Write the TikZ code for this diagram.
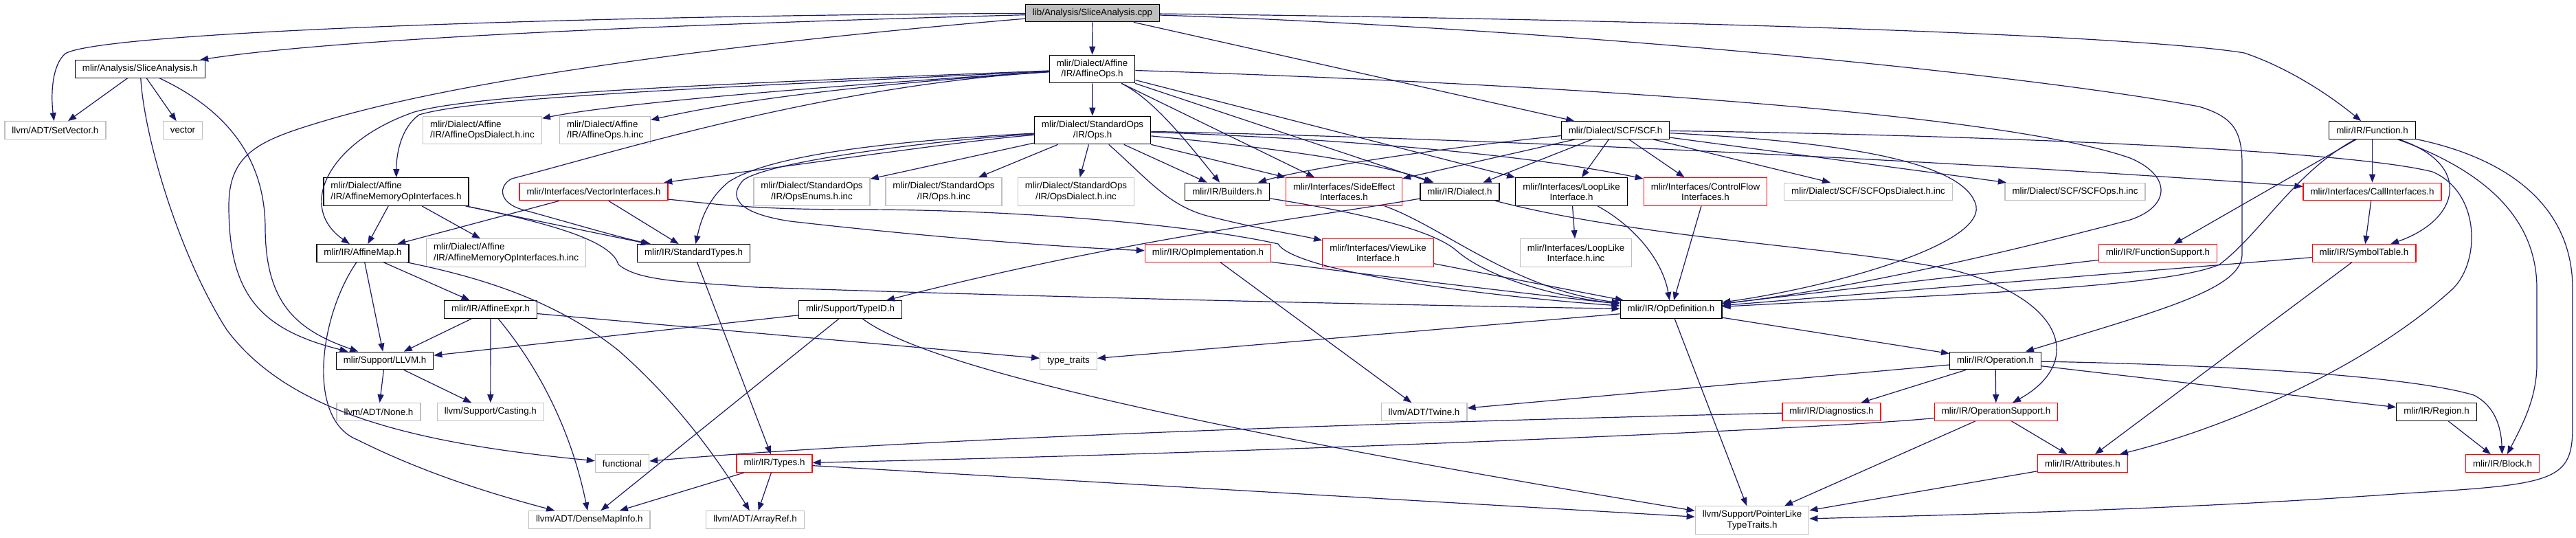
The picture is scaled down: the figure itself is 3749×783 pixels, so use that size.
\documentclass[tikz,border=0pt]{standalone}
\usepackage{fontspec}
\setmainfont{Liberation Sans}
\usepackage{tikz}
\usetikzlibrary{arrows.meta}
\definecolor{edgeblue}{RGB}{25,25,112}
\definecolor{undoc}{RGB}{191,191,191}
\definecolor{trunc}{RGB}{255,0,0}
\newcommand{\depfont}{\fontsize{13.33}{15.5}\selectfont}
\tikzset{
  hdr/.style  ={draw=black, line width=1.3pt, fill=white, inner xsep=10.5pt, inner ysep=2pt, minimum height=25.5pt, font=\depfont},
  ext/.style  ={hdr, draw=undoc},
  trc/.style  ={hdr, draw=trunc},
  src/.style  ={hdr, fill=undoc},
  twoc/.style ={minimum height=40.5pt, align=center},
  twol/.style ={minimum height=40.5pt, align=left},
  inc/.style  ={draw=edgeblue, line width=1.2pt, -{Triangle[length=12pt,width=9pt]}},
}

\begin{document}
\begin{tikzpicture}[x=1pt,y=-1pt]
  \useasboundingbox (0,0) rectangle (3749,783);
  % files
  \node[src] (root) at (1590,19) {lib/Analysis/SliceAnalysis.cpp};
  \node[hdr] (sa) at (204,100.5) {mlir/Analysis/SliceAnalysis.h};
  \node[hdr,twoc] (affops) at (1589.5,100.5) {mlir/Dialect/Affine\\/IR/AffineOps.h};
  \node[ext] (setvec) at (80.4,189.5) {llvm/ADT/SetVector.h};
  \node[ext] (vector) at (266,189.5) {vector};
  \node[ext,twol] (affdial) at (702,189.5) {mlir/Dialect/Affine\\/IR/AffineOpsDialect.h.inc};
  \node[ext,twol] (affinc) at (880.5,189.5) {mlir/Dialect/Affine\\/IR/AffineOps.h.inc};
  \node[hdr,twoc] (stdops) at (1590,189.5) {mlir/Dialect/StandardOps\\/IR/Ops.h};
  \node[hdr] (scf) at (2351,189.5) {mlir/Dialect/SCF/SCF.h};
  \node[hdr] (func) at (3452.5,189.5) {mlir/IR/Function.h};
  \node[hdr,twol] (affmem) at (576.5,279) {mlir/Dialect/Affine\\/IR/AffineMemoryOpInterfaces.h};
  \node[trc] (vecif) at (864,279) {mlir/Interfaces/VectorInterfaces.h};
  \node[ext,twoc] (opsenums) at (1181.5,279) {mlir/Dialect/StandardOps\\/IR/OpsEnums.h.inc};
  \node[ext,twoc] (opsinc) at (1373.5,279) {mlir/Dialect/StandardOps\\/IR/Ops.h.inc};
  \node[ext,twoc] (opsdial) at (1566,279) {mlir/Dialect/StandardOps\\/IR/OpsDialect.h.inc};
  \node[hdr] (builders) at (1786,279) {mlir/IR/Builders.h};
  \node[trc,twoc] (sideeff) at (1956,279) {mlir/Interfaces/SideEffect\\Interfaces.h};
  \node[hdr] (dialect) at (2124.5,279) {mlir/IR/Dialect.h};
  \node[hdr,twoc] (looplike) at (2287,279) {mlir/Interfaces/LoopLike\\Interface.h};
  \node[trc,twoc] (ctrlflow) at (2482,279) {mlir/Interfaces/ControlFlow\\Interfaces.h};
  \node[ext] (scfdial) at (2719,279) {mlir/Dialect/SCF/SCFOpsDialect.h.inc};
  \node[ext] (scfinc) at (3020,279) {mlir/Dialect/SCF/SCFOps.h.inc};
  \node[trc] (callif) at (3452.5,279) {mlir/Interfaces/CallInterfaces.h};
  \node[hdr] (affmap) at (528,368.5) {mlir/IR/AffineMap.h};
  \node[ext,twol] (affmeminc) at (736.5,368) {mlir/Dialect/Affine\\/IR/AffineMemoryOpInterfaces.h.inc};
  \node[hdr] (stdtypes) at (1009.5,368.5) {mlir/IR/StandardTypes.h};
  \node[trc] (opimpl) at (1758,368.5) {mlir/IR/OpImplementation.h};
  \node[trc,twoc] (viewlike) at (2005.5,368) {mlir/Interfaces/ViewLike\\Interface.h};
  \node[ext,twoc] (looplikeinc) at (2293.5,368) {mlir/Interfaces/LoopLike\\Interface.h.inc};
  \node[trc] (funcsup) at (3140.5,368.5) {mlir/IR/FunctionSupport.h};
  \node[trc] (symtab) at (3440.5,368.5) {mlir/IR/SymbolTable.h};
  \node[hdr] (affexpr) at (714,450.5) {mlir/IR/AffineExpr.h};
  \node[hdr] (typeid) at (1237.5,450.5) {mlir/Support/TypeID.h};
  \node[hdr] (opdef) at (2432,450.5) {mlir/IR/OpDefinition.h};
  \node[hdr] (llvmh) at (560,525) {mlir/Support/LLVM.h};
  \node[ext] (typetraits) at (1555,525) {type\_traits};
  \node[hdr] (operation) at (2904,525) {mlir/IR/Operation.h};
  \node[ext] (none) at (551,599.5) {llvm/ADT/None.h};
  \node[ext] (casting) at (713.8,599.5) {llvm/Support/Casting.h};
  \node[ext] (twine) at (2072.5,599.5) {llvm/ADT/Twine.h};
  \node[trc] (diag) at (2665.5,599.5) {mlir/IR/Diagnostics.h};
  \node[trc] (opsup) at (2905,599.5) {mlir/IR/OperationSupport.h};
  \node[hdr] (region) at (3546,599.5) {mlir/IR/Region.h};
  \node[ext] (functional) at (905.5,674.5) {functional};
  \node[trc] (types) at (1127,674.5) {mlir/IR/Types.h};
  \node[trc] (attrs) at (3031,674.5) {mlir/IR/Attributes.h};
  \node[trc] (block) at (3642,674.5) {mlir/IR/Block.h};
  \node[ext] (densemap) at (857.8,756.5) {llvm/ADT/DenseMapInfo.h};
  \node[ext] (arrayref) at (1099,756.5) {llvm/ADT/ArrayRef.h};
  \node[ext,twoc] (ptrlike) at (2550,757) {llvm/Support/PointerLike\\TypeTraits.h};

  % includes of the source file
  \draw[inc] (root) .. controls (1000,35) and (500,55) .. (sa);
  \draw[inc] (root) .. controls (900,22) and (150,45) .. (95,78) .. controls (75,95) and (74,140) .. (setvec);
  \draw[inc] (root) .. controls (1100,60) and (700,110) .. (482,173) .. controls (380,203) and (333,220) .. (333,300) .. controls (333,430) and (380,480) .. (llvmh);
  \draw[inc] (root) -- (affops);
  \draw[inc] (root) -- (scf);
  \draw[inc] (root) .. controls (2400,28) and (3100,50) .. (3266,77) .. controls (3320,95) and (3380,130) .. (func);
  \draw[inc] (root) .. controls (2200,38) and (2900,100) .. (3200,155) .. controls (3250,170) and (3263,190) .. (3263,240) -- (3263,370) .. controls (3263,420) and (3150,450) .. (operation);

  \draw[inc] (sa) -- (setvec);
  \draw[inc] (sa) -- (vector);
  \draw[inc] (sa) .. controls (210,200) and (260,370) .. (330,480) .. controls (420,600) and (600,645) .. (functional);
  \draw[inc] (sa) .. controls (330,160) and (385,230) .. (386,330) .. controls (386,440) and (430,480) .. (llvmh);

  % affine ops
  \draw[inc] (affops) -- (stdops);
  \draw[inc] (affops) .. controls (1100,120) and (700,135) .. (603,163) .. controls (480,205) and (430,300) .. (affmap);
  \draw[inc] (affops) .. controls (1100,125) and (700,140) .. (610,167) .. controls (585,185) and (577,220) .. (affmem);
  \draw[inc] (affops) .. controls (1200,125) and (900,150) .. (affdial);
  \draw[inc] (affops) .. controls (1300,120) and (1100,140) .. (affinc);
  \draw[inc] (affops) .. controls (1200,125) and (900,220) .. (745,260) .. controls (725,270) and (725,295) .. (760,305) .. controls (850,330) and (900,345) .. (stdtypes);
  \draw[inc] (affops) .. controls (2200,120) and (2900,160) .. (3100,230) .. controls (3160,255) and (3160,300) .. (3100,320) .. controls (2950,360) and (2700,420) .. (opdef);
  \draw[inc] (affops) .. controls (1680,145) and (1730,210) .. (builders);
  \draw[inc] (affops) -- (sideeff);
  \draw[inc] (affops) -- (dialect);
  \draw[inc] (affops) -- (looplike);

  % standard ops
  \draw[inc] (stdops) -- (opsenums);
  \draw[inc] (stdops) -- (opsinc);
  \draw[inc] (stdops) -- (opsdial);
  \draw[inc] (stdops) -- (builders);
  \draw[inc] (stdops) .. controls (1670,260) and (1700,300) .. (1760,315) .. controls (1840,335) and (1880,340) .. (viewlike);
  \draw[inc] (stdops) .. controls (1400,205) and (1200,235) .. (vecif);
  \draw[inc] (stdops) .. controls (1300,205) and (1120,225) .. (1060,265) .. controls (1030,290) and (1020,320) .. (stdtypes);
  \draw[inc] (stdops) .. controls (1350,205) and (1120,235) .. (1082,262) .. controls (1060,285) and (1070,310) .. (1150,322) .. controls (1350,345) and (1550,360) .. (opimpl);
  \draw[inc] (stdops) -- (sideeff);
  \draw[inc] (stdops) .. controls (1850,215) and (2000,235) .. (dialect);
  \draw[inc] (stdops) .. controls (1900,200) and (2200,220) .. (ctrlflow);
  \draw[inc] (stdops) .. controls (2300,205) and (3000,245) .. (callif);

  % scf
  \draw[inc] (scf) .. controls (2100,215) and (1900,245) .. (builders);
  \draw[inc] (scf) -- (sideeff);
  \draw[inc] (scf) -- (dialect);
  \draw[inc] (scf) -- (looplike);
  \draw[inc] (scf) -- (ctrlflow);
  \draw[inc] (scf) -- (scfdial);
  \draw[inc] (scf) -- (scfinc);
  \draw[inc] (scf) .. controls (2800,195) and (3400,215) .. (3540,250) .. controls (3610,280) and (3610,380) .. (3570,420) .. controls (3450,530) and (3250,620) .. (attrs);
  \draw[inc] (scf) .. controls (2650,205) and (2860,230) .. (2876,300) .. controls (2885,360) and (2650,420) .. (opdef);

  % function
  \draw[inc] (func) -- (funcsup);
  \draw[inc] (func) .. controls (3340,250) and (3290,340) .. (3230,385) .. controls (3150,420) and (2800,430) .. (opdef);
  \draw[inc] (func) -- (callif);
  \draw[inc] (func) .. controls (3600,240) and (3580,320) .. (symtab);
  \draw[inc] (func) .. controls (3620,250) and (3692,320) .. (3692,420) -- (3692,530) .. controls (3692,580) and (3670,620) .. (block);
  \draw[inc] (func) .. controls (3650,230) and (3744,300) .. (3744,420) -- (3744,620) .. controls (3744,700) and (3720,705) .. (3500,718) .. controls (3200,740) and (2900,748) .. (ptrlike);
  \draw[inc] (callif) -- (symtab);
  \draw[inc] (symtab) -- (opdef);
  \draw[inc] (symtab) -- (attrs);
  \draw[inc] (funcsup) -- (opdef);

  % interfaces
  \draw[inc] (looplike) -- (looplikeinc);
  \draw[inc] (looplike) .. controls (2380,330) and (2420,380) .. (opdef);
  \draw[inc] (ctrlflow) -- (opdef);
  \draw[inc] (sideeff) .. controls (2100,330) and (2200,420) .. (opdef);
  \draw[inc] (viewlike) -- (opdef);
  \draw[inc] (vecif) -- (stdtypes);
  \draw[inc] (vecif) -- (affmap);
  \draw[inc] (vecif) .. controls (1050,298) and (1100,305) .. (1250,305) .. controls (1500,305) and (1750,330) .. (1860,355) .. controls (1885,395) and (2150,430) .. (opdef);
  \draw[inc] (dialect) .. controls (1900,318) and (1650,345) .. (typeid);
  \draw[inc] (dialect) .. controls (2400,350) and (2700,360) .. (2850,395) .. controls (3010,440) and (3030,530) .. (opsup);
  \draw[inc] (builders) .. controls (1950,305) and (2080,330) .. (2120,365) .. controls (2160,400) and (2250,430) .. (opdef);
  \draw[inc] (opimpl) .. controls (1950,395) and (2200,425) .. (opdef);
  \draw[inc] (opimpl) -- (twine);

  % affine headers
  \draw[inc] (affmem) -- (affmap);
  \draw[inc] (affmem) -- (affmeminc);
  \draw[inc] (affmem) -- (stdtypes);
  \draw[inc] (affmem) .. controls (800,325) and (890,350) .. (900,385) .. controls (930,410) and (1000,410) .. (1100,418) .. controls (1600,435) and (2100,445) .. (opdef);
  \draw[inc] (affmap) -- (affexpr);
  \draw[inc] (affmap) -- (llvmh);
  \draw[inc] (affmap) .. controls (465,460) and (445,610) .. (520,640) .. controls (620,690) and (720,720) .. (densemap);
  \draw[inc] (affmap) .. controls (680,400) and (800,430) .. (900,510) .. controls (980,580) and (1040,660) .. (arrayref);
  \draw[inc] (affexpr) -- (llvmh);
  \draw[inc] (affexpr) -- (casting);
  \draw[inc] (affexpr) .. controls (780,530) and (830,620) .. (densemap);
  \draw[inc] (affexpr) -- (typetraits);

  % support
  \draw[inc] (typeid) -- (llvmh);
  \draw[inc] (typeid) -- (densemap);
  \draw[inc] (typeid) .. controls (1330,520) and (1600,600) .. (ptrlike);
  \draw[inc] (llvmh) -- (none);
  \draw[inc] (llvmh) -- (casting);
  \draw[inc] (stdtypes) -- (types);
  \draw[inc] (types) -- (densemap);
  \draw[inc] (types) -- (arrayref);
  \draw[inc] (types) -- (ptrlike);

  % operations
  \draw[inc] (opdef) -- (operation);
  \draw[inc] (opdef) -- (typetraits);
  \draw[inc] (opdef) -- (ptrlike);
  \draw[inc] (operation) -- (twine);
  \draw[inc] (operation) -- (diag);
  \draw[inc] (operation) -- (opsup);
  \draw[inc] (operation) -- (region);
  \draw[inc] (operation) .. controls (3200,530) and (3500,545) .. (3600,575) .. controls (3630,590) and (3640,620) .. (block);
  \draw[inc] (diag) .. controls (2000,615) and (1300,640) .. (functional);
  \draw[inc] (opsup) .. controls (2650,625) and (1800,660) .. (types);
  \draw[inc] (opsup) -- (ptrlike);
  \draw[inc] (opsup) -- (attrs);
  \draw[inc] (attrs) -- (ptrlike);
  \draw[inc] (region) -- (block);
\end{tikzpicture}
\end{document}
